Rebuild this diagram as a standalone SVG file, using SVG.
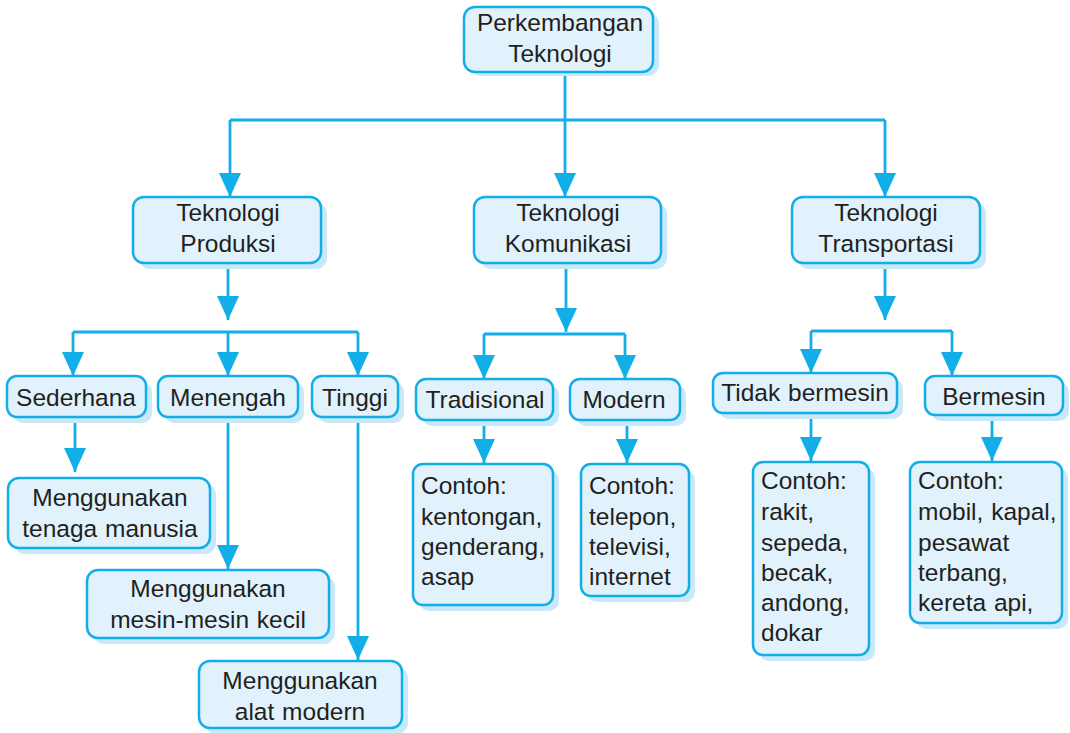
<svg xmlns="http://www.w3.org/2000/svg" width="1070" height="733" viewBox="0 0 1070 733">
<style>
.sh{fill:#c9e8f8;stroke:none}
.bx{fill:#e1f2fc;stroke:#12aee8;stroke-width:2.5}
.t{font-family:"Liberation Sans",Arial,sans-serif;font-size:24.5px;fill:#231f20;word-spacing:1px}
.c{text-anchor:middle}
.ln{fill:none;stroke:#12aee8;stroke-width:2.8}
</style>
<defs>
<marker id="ah" markerUnits="userSpaceOnUse" markerWidth="24" markerHeight="22" viewBox="0 0 24 22" refX="24" refY="11" orient="auto">
<path d="M0,0 L24,11 L0,22 Z" fill="#12aee8"/>
</marker>
</defs>
<rect width="1070" height="733" fill="#fff"/>
<g id="connectors">
<path class="ln" d="M565,72 V120"/>
<path class="ln" d="M230,120 H885"/>
<path class="ln" d="M230,120 V197" marker-end="url(#ah)"/>
<path class="ln" d="M565,120 V197" marker-end="url(#ah)"/>
<path class="ln" d="M885,120 V197" marker-end="url(#ah)"/>
<path class="ln" d="M228,264 V320" marker-end="url(#ah)"/>
<path class="ln" d="M73,332 H358"/>
<path class="ln" d="M73,332 V376" marker-end="url(#ah)"/>
<path class="ln" d="M228,332 V376" marker-end="url(#ah)"/>
<path class="ln" d="M358,332 V376" marker-end="url(#ah)"/>
<path class="ln" d="M75,418 V472" marker-end="url(#ah)"/>
<path class="ln" d="M228,418 V569" marker-end="url(#ah)"/>
<path class="ln" d="M358,418 V660" marker-end="url(#ah)"/>
<path class="ln" d="M566,264 V332" marker-end="url(#ah)"/>
<path class="ln" d="M484,334 H625"/>
<path class="ln" d="M484,334 V379" marker-end="url(#ah)"/>
<path class="ln" d="M625,334 V379" marker-end="url(#ah)"/>
<path class="ln" d="M484,421 V463" marker-end="url(#ah)"/>
<path class="ln" d="M627,421 V463" marker-end="url(#ah)"/>
<path class="ln" d="M885,264 V320" marker-end="url(#ah)"/>
<path class="ln" d="M811,331 H952"/>
<path class="ln" d="M811,331 V373" marker-end="url(#ah)"/>
<path class="ln" d="M952,331 V376" marker-end="url(#ah)"/>
<path class="ln" d="M811,413 V461" marker-end="url(#ah)"/>
<path class="ln" d="M992,416 V461" marker-end="url(#ah)"/>
</g>
<g id="n-root">
<rect class="sh" x="470" y="13" width="189" height="63" rx="11"/>
<rect class="bx" x="464" y="7" width="189" height="65" rx="11"/>
<text class="t c" x="560" y="31">Perkembangan</text>
<text class="t c" x="560" y="62">Teknologi</text>
</g>
<g id="n-produksi">
<rect class="sh" x="139" y="203" width="188" height="66" rx="11"/>
<rect class="bx" x="133" y="197" width="188" height="66" rx="11"/>
<text class="t c" x="228" y="221">Teknologi</text>
<text class="t c" x="228" y="252">Produksi</text>
</g>
<g id="n-komunikasi">
<rect class="sh" x="480" y="203" width="187" height="66" rx="11"/>
<rect class="bx" x="474" y="197" width="187" height="66" rx="11"/>
<text class="t c" x="568" y="221">Teknologi</text>
<text class="t c" x="568" y="252">Komunikasi</text>
</g>
<g id="n-transportasi">
<rect class="sh" x="798" y="203" width="188" height="66" rx="11"/>
<rect class="bx" x="792" y="197" width="188" height="66" rx="11"/>
<text class="t c" x="886" y="221">Teknologi</text>
<text class="t c" x="886" y="252">Transportasi</text>
</g>
<g id="n-sederhana">
<rect class="sh" x="13" y="382" width="139" height="41" rx="10"/>
<rect class="bx" x="7" y="376" width="139" height="41" rx="10"/>
<text class="t c" x="76" y="406">Sederhana</text>
</g>
<g id="n-menengah">
<rect class="sh" x="164" y="382" width="140" height="41" rx="10"/>
<rect class="bx" x="158" y="376" width="140" height="41" rx="10"/>
<text class="t c" x="228" y="406">Menengah</text>
</g>
<g id="n-tinggi">
<rect class="sh" x="318" y="382" width="86" height="41" rx="10"/>
<rect class="bx" x="312" y="376" width="86" height="41" rx="10"/>
<text class="t c" x="355" y="406">Tinggi</text>
</g>
<g id="n-tenaga">
<rect class="sh" x="14" y="484" width="202" height="70" rx="11"/>
<rect class="bx" x="8" y="478" width="202" height="70" rx="11"/>
<text class="t c" x="110" y="506">Menggunakan</text>
<text class="t c" x="110" y="537">tenaga manusia</text>
</g>
<g id="n-mesin">
<rect class="sh" x="93" y="576" width="242" height="68" rx="11"/>
<rect class="bx" x="87" y="570" width="242" height="68" rx="11"/>
<text class="t c" x="208" y="597">Menggunakan</text>
<text class="t c" x="208" y="628">mesin-mesin kecil</text>
</g>
<g id="n-alat">
<rect class="sh" x="205" y="667" width="203" height="67" rx="11"/>
<rect class="bx" x="199" y="661" width="203" height="67" rx="11"/>
<text class="t c" x="300" y="689">Menggunakan</text>
<text class="t c" x="300" y="720">alat modern</text>
</g>
<g id="n-tradisional">
<rect class="sh" x="422" y="385" width="137" height="41" rx="10"/>
<rect class="bx" x="416" y="379" width="137" height="41" rx="10"/>
<text class="t c" x="485" y="408">Tradisional</text>
</g>
<g id="n-modern">
<rect class="sh" x="576" y="385" width="110" height="41" rx="10"/>
<rect class="bx" x="570" y="379" width="110" height="41" rx="10"/>
<text class="t c" x="624" y="408">Modern</text>
</g>
<g id="n-contoh-tradisional">
<rect class="sh" x="419" y="470" width="140" height="141" rx="10"/>
<rect class="bx" x="413" y="464" width="140" height="141" rx="10"/>
<text class="t" x="421" y="494">Contoh:</text>
<text class="t" x="421" y="525">kentongan,</text>
<text class="t" x="421" y="555">genderang,</text>
<text class="t" x="421" y="585">asap</text>
</g>
<g id="n-contoh-modern">
<rect class="sh" x="587" y="470" width="108" height="132" rx="10"/>
<rect class="bx" x="581" y="464" width="108" height="132" rx="10"/>
<text class="t" x="589" y="494">Contoh:</text>
<text class="t" x="589" y="525">telepon,</text>
<text class="t" x="589" y="555">televisi,</text>
<text class="t" x="589" y="585">internet</text>
</g>
<g id="n-tidak-bermesin">
<rect class="sh" x="719" y="379" width="184" height="40" rx="10"/>
<rect class="bx" x="713" y="373" width="184" height="40" rx="10"/>
<text class="t c" x="805" y="401">Tidak bermesin</text>
</g>
<g id="n-bermesin">
<rect class="sh" x="931" y="382" width="138" height="39" rx="10"/>
<rect class="bx" x="925" y="376" width="138" height="39" rx="10"/>
<text class="t c" x="994" y="405">Bermesin</text>
</g>
<g id="n-contoh-tidak">
<rect class="sh" x="759" y="468" width="116" height="193" rx="10"/>
<rect class="bx" x="753" y="462" width="116" height="193" rx="10"/>
<text class="t" x="761" y="489">Contoh:</text>
<text class="t" x="761" y="520">rakit,</text>
<text class="t" x="761" y="551">sepeda,</text>
<text class="t" x="761" y="581">becak,</text>
<text class="t" x="761" y="611">andong,</text>
<text class="t" x="761" y="641">dokar</text>
</g>
<g id="n-contoh-bermesin">
<rect class="sh" x="916" y="468" width="152" height="161" rx="10"/>
<rect class="bx" x="910" y="462" width="152" height="161" rx="10"/>
<text class="t" x="918" y="489">Contoh:</text>
<text class="t" x="918" y="520">mobil, kapal,</text>
<text class="t" x="918" y="551">pesawat</text>
<text class="t" x="918" y="581">terbang,</text>
<text class="t" x="918" y="611">kereta api,</text>
</g>
</svg>
